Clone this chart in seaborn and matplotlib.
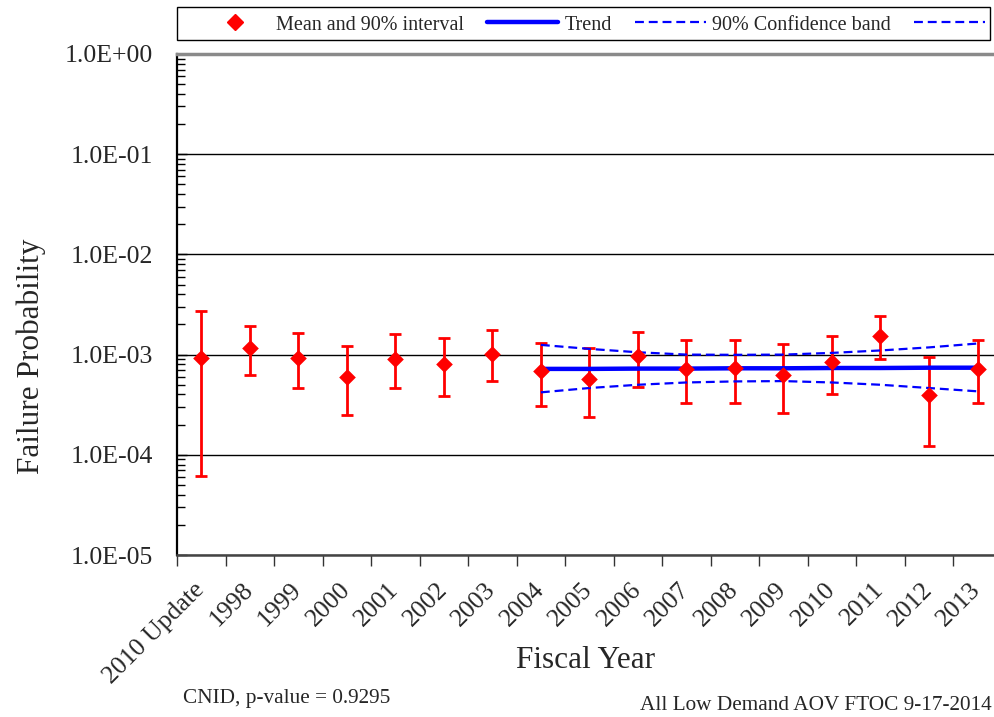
import numpy as np
import pandas as pd
import matplotlib
matplotlib.use("Agg")
import matplotlib.pyplot as plt
from matplotlib.lines import Line2D
from matplotlib.patches import Rectangle
from matplotlib.transforms import ScaledTranslation
from matplotlib.ticker import FixedLocator, LogLocator, FuncFormatter, NullFormatter
import seaborn as sns

# ---------------- data ----------------
categories = ["2010 Update", "1998", "1999", "2000", "2001", "2002", "2003", "2004",
              "2005", "2006", "2007", "2008", "2009", "2010", "2011", "2012", "2013"]
mean_vals = [9.3e-4, 1.16e-3, 9.2e-4, 6.0e-4, 9.1e-4, 8.1e-4, 1.02e-3, 6.8e-4,
             5.75e-4, 9.6e-4, 7.25e-4, 7.3e-4, 6.3e-4, 8.4e-4, 1.54e-3, 3.95e-4, 7.25e-4]
lower_vals = [6.1e-5, 6.3e-4, 4.65e-4, 2.5e-4, 4.65e-4, 3.85e-4, 5.4e-4, 3.1e-4,
              2.4e-4, 4.8e-4, 3.3e-4, 3.3e-4, 2.6e-4, 4.05e-4, 9.1e-4, 1.22e-4, 3.3e-4]
upper_vals = [2.7e-3, 1.95e-3, 1.63e-3, 1.23e-3, 1.62e-3, 1.47e-3, 1.74e-3, 1.31e-3,
              1.17e-3, 1.69e-3, 1.40e-3, 1.41e-3, 1.27e-3, 1.55e-3, 2.42e-3, 9.4e-4, 1.40e-3]

trend_years = ["2004", "2005", "2006", "2007", "2008", "2009", "2010", "2011", "2012", "2013"]
trend_vals = [7.2e-4, 7.2e-4, 7.25e-4, 7.25e-4, 7.3e-4, 7.3e-4, 7.35e-4, 7.35e-4, 7.4e-4, 7.4e-4]
band_upper = [1.25e-3, 1.14e-3, 1.055e-3, 1.0e-3, 0.995e-3, 1.0e-3, 1.04e-3, 1.10e-3, 1.18e-3, 1.29e-3]
band_lower = [4.2e-4, 4.64e-4, 5.0e-4, 5.27e-4, 5.4e-4, 5.44e-4, 5.27e-4, 5.0e-4, 4.64e-4, 4.3e-4]

y_tick_vals = [1e-5, 1e-4, 1e-3, 1e-2, 1e-1, 1e0]

# ---------------- style ----------------
sns.set_theme(style="white")
plt.rcParams["font.family"] = ["Liberation Serif", "DejaVu Serif"]

RED = "#FF0000"
BLUE = "#0000FF"
DASH = (0, (4, 2.2))

pos = np.arange(len(categories))
df = pd.DataFrame({"pos": pos, "mean": mean_vals, "lo": lower_vals, "hi": upper_vals})
tpos = np.array([categories.index(y) for y in trend_years])
tdf = pd.DataFrame({"pos": tpos, "trend": trend_vals, "up": band_upper, "low": band_lower})

W, H = 994, 717
fig = plt.figure(figsize=(W / 100, H / 100), dpi=100)
left, right, top, bottom = 177, 994, 54, 555
ax = fig.add_axes([left / W, 1 - bottom / H, (right - left) / W, (bottom - top) / H])

ax.set_yscale("log")
ax.set_ylim(1e-5, 1e0)
ax.set_xlim(-0.5, 16.34)

# grid
ax.yaxis.set_major_locator(FixedLocator(y_tick_vals))
ax.yaxis.set_minor_locator(LogLocator(base=10, subs=np.arange(2, 10)))
ax.yaxis.set_minor_formatter(NullFormatter())
ax.yaxis.set_major_formatter(FuncFormatter(lambda v, p: f"{v:.1E}"))
ax.grid(axis="y", which="major", color="black", linewidth=1.0)
ax.grid(axis="x", visible=False)
ax.set_axisbelow(True)

# error bars
ax.errorbar(df["pos"], df["mean"],
            yerr=[df["mean"] - df["lo"], df["hi"] - df["mean"]],
            fmt="none", ecolor=RED, elinewidth=2.0, capsize=4.2, capthick=2.0, zorder=3)

# trend & band
sns.lineplot(data=tdf, x="pos", y="trend", color=BLUE, linewidth=3.2, ax=ax, zorder=4)
sns.lineplot(data=tdf, x="pos", y="up", color=BLUE, linewidth=1.6, ax=ax, zorder=4,
             linestyle=DASH)
sns.lineplot(data=tdf, x="pos", y="low", color=BLUE, linewidth=1.6, ax=ax, zorder=4,
             linestyle=DASH)

# means
sns.scatterplot(data=df, x="pos", y="mean", marker="D", s=72, color=RED,
                linewidth=0, ax=ax, zorder=5)

# x ticks
ax.set_xticks(pos)
ax.set_xticklabels(categories, rotation=45, ha="right", rotation_mode="anchor",
                   fontsize=18.5)
ax.xaxis.set_minor_locator(FixedLocator(pos - 0.5))
ax.tick_params(axis="x", which="major", length=0, pad=7)
ax.tick_params(axis="x", which="minor", length=8, width=1.0, direction="out",
               color="#333333", bottom=True)
offset = ScaledTranslation(-8 / 100, -14 / 100, fig.dpi_scale_trans)
for lab in ax.get_xticklabels():
    lab.set_va("top")
    lab.set_transform(lab.get_transform() + offset)

# y ticks
ax.tick_params(axis="y", which="major", length=7, width=1.0, direction="in",
               labelsize=18.5, pad=17, left=True, color="black")
ax.tick_params(axis="y", which="minor", length=6, width=1.0, direction="in",
               left=True, color="black")

# spines
ax.spines["right"].set_visible(False)
ax.spines["top"].set_color("#8a8a8a")
ax.spines["top"].set_linewidth(2.5)
ax.spines["left"].set_color("black")
ax.spines["left"].set_linewidth(1.6)
ax.spines["bottom"].set_color("#444444")
ax.spines["bottom"].set_linewidth(1.8)

# labels
ax.set_xlabel("Fiscal Year", fontsize=22.5)
ax.xaxis.label.set_va("center")
ax.xaxis.set_label_coords((586 - left) / (right - left), (bottom - 660) / (bottom - top))
ax.set_ylabel("Failure Probability", fontsize=22.5)
ax.yaxis.label.set_va("center")
ax.yaxis.set_label_coords((31 - left) / (right - left), (bottom - 356) / (bottom - top))

fig.text(183 / W, 1 - 698 / H, "CNID, p-value = 0.9295", fontsize=15.3,
         ha="left", va="center")
fig.text(992 / W, 1 - 705 / H, "All Low Demand AOV FTOC 9-17-2014", fontsize=15.3,
         ha="right", va="center")

# legend
handles = [
    Line2D([], [], marker="D", color=RED, linestyle="none", markersize=8.5),
    Line2D([], [], color=BLUE, linewidth=3.2),
    Line2D([], [], color=BLUE, linewidth=1.6, linestyle=DASH),
    Line2D([], [], color=BLUE, linewidth=1.6, linestyle=DASH),
]
labels = ["Mean and 90% interval", "Trend", "90% Confidence band", ""]
leg = fig.legend(handles, labels, ncol=4, loc="center left",
                 bbox_to_anchor=(199 / W, 1 - 25 / H),
                 bbox_transform=fig.transFigure,
                 fontsize=14.5, frameon=False,
                 handlelength=3.53, handletextpad=0.3, columnspacing=1.15,
                 borderpad=0, borderaxespad=0)
fig.patches.append(Rectangle((177 / W, 1 - 40 / H), (990 - 177) / W, 33 / H,
                             transform=fig.transFigure, fill=False,
                             edgecolor="black", linewidth=1.0))

fig.savefig("out.png", dpi=100)
